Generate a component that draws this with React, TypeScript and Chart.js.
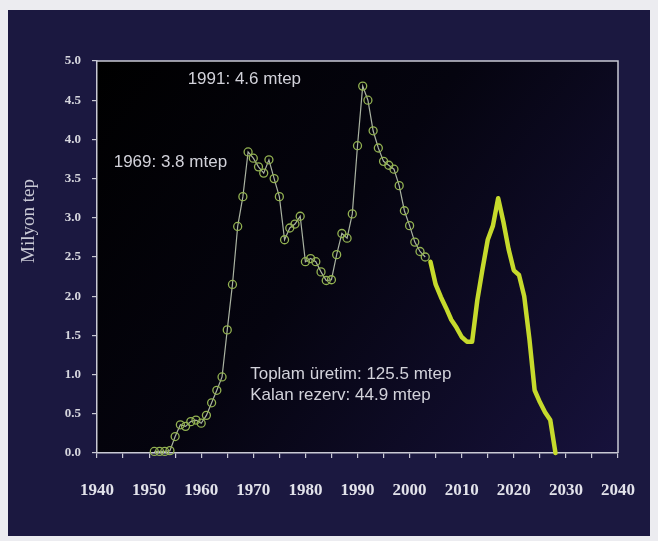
import React, { useEffect, useRef } from 'react';
import { Chart, registerables } from 'chart.js';

Chart.register(...registerables);

// ---- Data ----
const histYears: number[] = [
  1951, 1952, 1953, 1954, 1955, 1956, 1957, 1958, 1959, 1960,
  1961, 1962, 1963, 1964, 1965, 1966, 1967, 1968, 1969, 1970,
  1971, 1972, 1973, 1974, 1975, 1976, 1977, 1978, 1979, 1980,
  1981, 1982, 1983, 1984, 1985, 1986, 1987, 1988, 1989, 1990,
  1991, 1992, 1993, 1994, 1995, 1996, 1997, 1998, 1999, 2000,
  2001, 2002, 2003,
];
const histValues: number[] = [
  0.02, 0.02, 0.02, 0.03, 0.21, 0.36, 0.34, 0.40, 0.42, 0.38,
  0.48, 0.64, 0.80, 0.97, 1.57, 2.15, 2.89, 3.27, 3.84, 3.76,
  3.65, 3.57, 3.74, 3.50, 3.27, 2.72, 2.87, 2.92, 3.02, 2.44,
  2.48, 2.44, 2.31, 2.20, 2.21, 2.53, 2.80, 2.74, 3.05, 3.92,
  4.68, 4.50, 4.11, 3.89, 3.72, 3.67, 3.62, 3.41, 3.09, 2.90,
  2.69, 2.57, 2.50,
];
const forecastYears: number[] = [
  2004, 2005, 2006, 2007, 2008, 2009, 2010, 2011, 2012, 2013,
  2014, 2015, 2016, 2017, 2018, 2019, 2020, 2021, 2022, 2023,
  2024, 2025, 2026, 2027, 2028,
];
const forecastValues: number[] = [
  2.44, 2.15, 1.99, 1.85, 1.70, 1.60, 1.48, 1.42, 1.42, 1.95,
  2.35, 2.72, 2.90, 3.25, 2.95, 2.60, 2.33, 2.27, 2.00, 1.45,
  0.80, 0.65, 0.52, 0.42, 0.00,
];
const xMin = 1940;
const xMax = 2040;
const yMin = 0;
const yMax = 5;
const yTitle = 'Milyon tep';
const peak1969Label = '1969: 3.8 mtep';
const peak1991Label = '1991: 4.6 mtep';
const summaryLines: string[] = ['Toplam üretim: 125.5 mtep', 'Kalan rezerv: 44.9 mtep'];

const SERIF = '"Liberation Serif", "DejaVu Serif", serif';
const SANS = '"Liberation Sans", Arial, sans-serif';

const framePlugin = {
  id: 'frame',
  beforeDraw(chart: any) {
    const { ctx, width, height, chartArea: a } = chart;
    ctx.save();
    ctx.fillStyle = '#ececf0';
    ctx.fillRect(0, 0, width, height);
    ctx.fillStyle = '#1b1840';
    ctx.fillRect(8, 10, 642, 526);
    const g = ctx.createLinearGradient(a.left, a.top, a.right, a.bottom);
    g.addColorStop(0, '#000000');
    g.addColorStop(0.45, '#05040f');
    g.addColorStop(1, '#17123c');
    ctx.fillStyle = g;
    ctx.fillRect(a.left, a.top, a.right - a.left, a.bottom - a.top);
    ctx.restore();
  },
  afterDraw(chart: any) {
    const { ctx, chartArea: a } = chart;
    const xs = chart.scales.x;
    const ys = chart.scales.y;
    ctx.save();
    // top & right frame lines
    ctx.strokeStyle = '#c9c9d4';
    ctx.lineWidth = 1.5;
    ctx.beginPath();
    ctx.moveTo(a.left, a.top);
    ctx.lineTo(a.right, a.top);
    ctx.lineTo(a.right, a.bottom);
    ctx.stroke();
    ctx.restore();

    // y title
    ctx.save();
    ctx.fillStyle = '#c8c8d4';
    ctx.font = `19px ${SERIF}`;
    ctx.textAlign = 'center';
    ctx.textBaseline = 'middle';
    ctx.translate(a.left - 68, ys.getPixelForValue(2.96));
    ctx.rotate(-Math.PI / 2);
    ctx.fillText(yTitle, 0, 0);
    ctx.restore();

    // annotations
    ctx.save();
    ctx.fillStyle = '#d2d2da';
    ctx.font = `17px ${SANS}`;
    ctx.textAlign = 'left';
    ctx.textBaseline = 'middle';
    ctx.fillText(peak1991Label, xs.getPixelForValue(1957.4), ys.getPixelForValue(4.77));
    ctx.fillText(peak1969Label, xs.getPixelForValue(1943.2), ys.getPixelForValue(3.71));
    ctx.fillText(summaryLines[0], xs.getPixelForValue(1969.4), ys.getPixelForValue(1.01));
    ctx.fillText(summaryLines[1], xs.getPixelForValue(1969.4), ys.getPixelForValue(0.73));
    ctx.restore();
  },
};

export default function App() {
  const ref = useRef<HTMLCanvasElement | null>(null);

  useEffect(() => {
    if (!ref.current) return;
    const histData = histYears.map((x, i) => ({ x, y: histValues[i] }));
    const fcData = forecastYears.map((x, i) => ({ x, y: forecastValues[i] }));
    const chart = new Chart(ref.current, {
      type: 'line',
      data: {
        datasets: [
          {
            label: 'Üretim',
            data: histData,
            borderColor: 'rgba(188,198,178,0.9)',
            borderWidth: 1.2,
            pointRadius: 4,
            pointBorderWidth: 1.3,
            pointBorderColor: '#93b252',
            pointBackgroundColor: 'rgba(0,0,0,0)',
            tension: 0,
            clip: false as any,
          },
          {
            label: 'Tahmin',
            data: fcData,
            borderColor: '#c6da2c',
            borderWidth: 4.5,
            pointRadius: 0,
            tension: 0,
            borderJoinStyle: 'round',
            borderCapStyle: 'round',
            clip: false as any,
          },
        ],
      },
      options: {
        responsive: false,
        animation: false,
        layout: { padding: { left: 0, right: 40, top: 61, bottom: 0 } },
        plugins: {
          legend: { display: false },
          tooltip: { enabled: false },
        },
        scales: {
          x: {
            type: 'linear',
            min: xMin,
            max: xMax,
            afterFit: (s: any) => {
              s.height = 88;
            },
            grid: {
              drawOnChartArea: false,
              drawTicks: true,
              tickLength: 5,
              color: '#c9c9d4',
              lineWidth: 1.2,
            },
            border: { display: true, color: '#c9c9d4', width: 1.5 },
            ticks: {
              stepSize: 5,
              autoSkip: false,
              maxRotation: 0,
              padding: 22,
              color: '#e2e2ea',
              font: { family: SERIF, size: 17, weight: 'bold' },
              callback: (v: any) => (Number(v) % 10 === 0 ? String(v) : ''),
            },
          },
          y: {
            type: 'linear',
            min: yMin,
            max: yMax,
            afterFit: (s: any) => {
              s.width = 97;
            },
            grid: {
              drawOnChartArea: false,
              drawTicks: true,
              tickLength: 5,
              color: '#c9c9d4',
              lineWidth: 1.2,
            },
            border: { display: true, color: '#c9c9d4', width: 1.5 },
            ticks: {
              stepSize: 0.5,
              padding: 11,
              color: '#d6d6de',
              font: { family: SERIF, size: 13, weight: 'bold' },
              callback: (v: any) => Number(v).toFixed(1),
            },
          },
        },
      },
      plugins: [framePlugin],
    });
    return () => chart.destroy();
  }, []);

  return (
    <div style={{ position: 'absolute', left: 0, top: 0, width: 658, height: 541 }}>
      <canvas ref={ref} width={658} height={541} style={{ display: 'block', width: 658, height: 541 }} />
    </div>
  );
}
